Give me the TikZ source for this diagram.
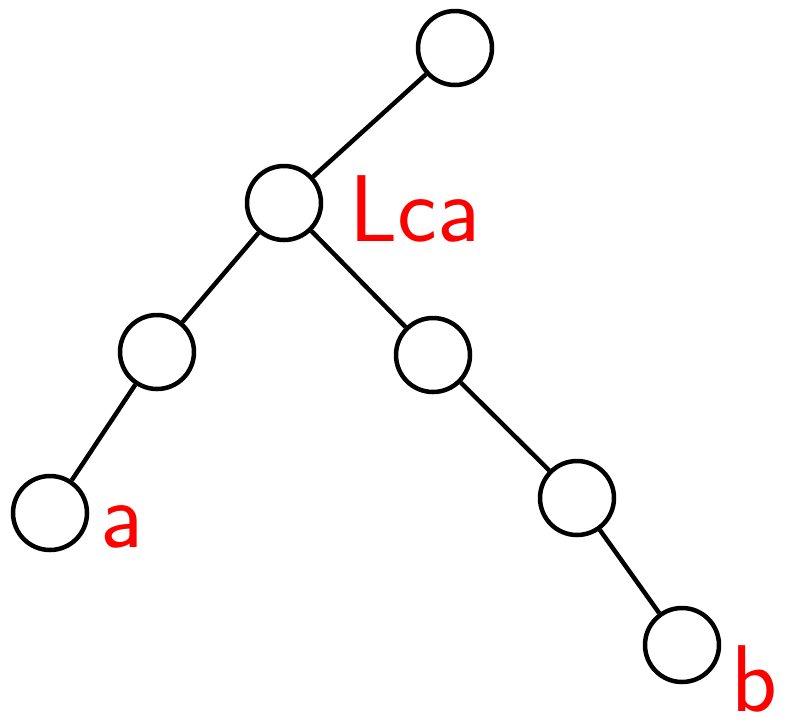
\documentclass[tikz,border=0pt]{standalone}
\usepackage{tikz}
\usetikzlibrary{positioning}

\begin{document}
\begin{tikzpicture}[
				on grid,
				vertex/.style={circle, draw, line width=0.09cm, minimum size=1.48cm, inner sep=0pt},
				edge/.style={line width=0.09cm},
				tag/.style={text=red, font=\sffamily\fontsize{54}{54}\selectfont, inner sep=0pt}
				]
				\useasboundingbox (0,0) rectangle (15.7,-14.48);
				
				% 根
				\node[vertex] at (9.1,-0.96) (root) {};
				\node[vertex, below left=3.1cm and 3.42cm of root] (lca) {};
				
				% lca的两个儿子
				\node[vertex, below left=2.98cm and 2.54cm of lca] (L1) {};
				\node[vertex, below right=3.04cm and 2.98cm of lca] (R1) {};
				
				% 叶子
				\node[vertex, below left=3.22cm and 2.14cm of L1] (a) {};
				\node[vertex, below right=2.86cm and 2.88cm of R1] (R2) {};
				\node[vertex, below right=2.94cm and 2.1cm of R2] (b) {};
				
				% 标注
				\node[tag, right=2.62cm of lca, yshift=-0.12cm] (lcaTag) {Lca};
				\node[tag, right=1.44cm of a, yshift=-0.28cm] (aTag) {a};
				\node[tag, anchor=south east] at ([xshift=-0.14cm, yshift=0.22cm]15.7,-14.48) (bTag) {b};
				
				% 连线
				\draw[edge] (root) -- (lca);
				\draw[edge] (lca) -- (L1);
				\draw[edge] (lca) -- (R1);
				\draw[edge] (L1) -- (a);
				\draw[edge] (R1) -- (R2);
				\draw[edge] (R2) -- (b);
				
			\end{tikzpicture}
\end{document}
